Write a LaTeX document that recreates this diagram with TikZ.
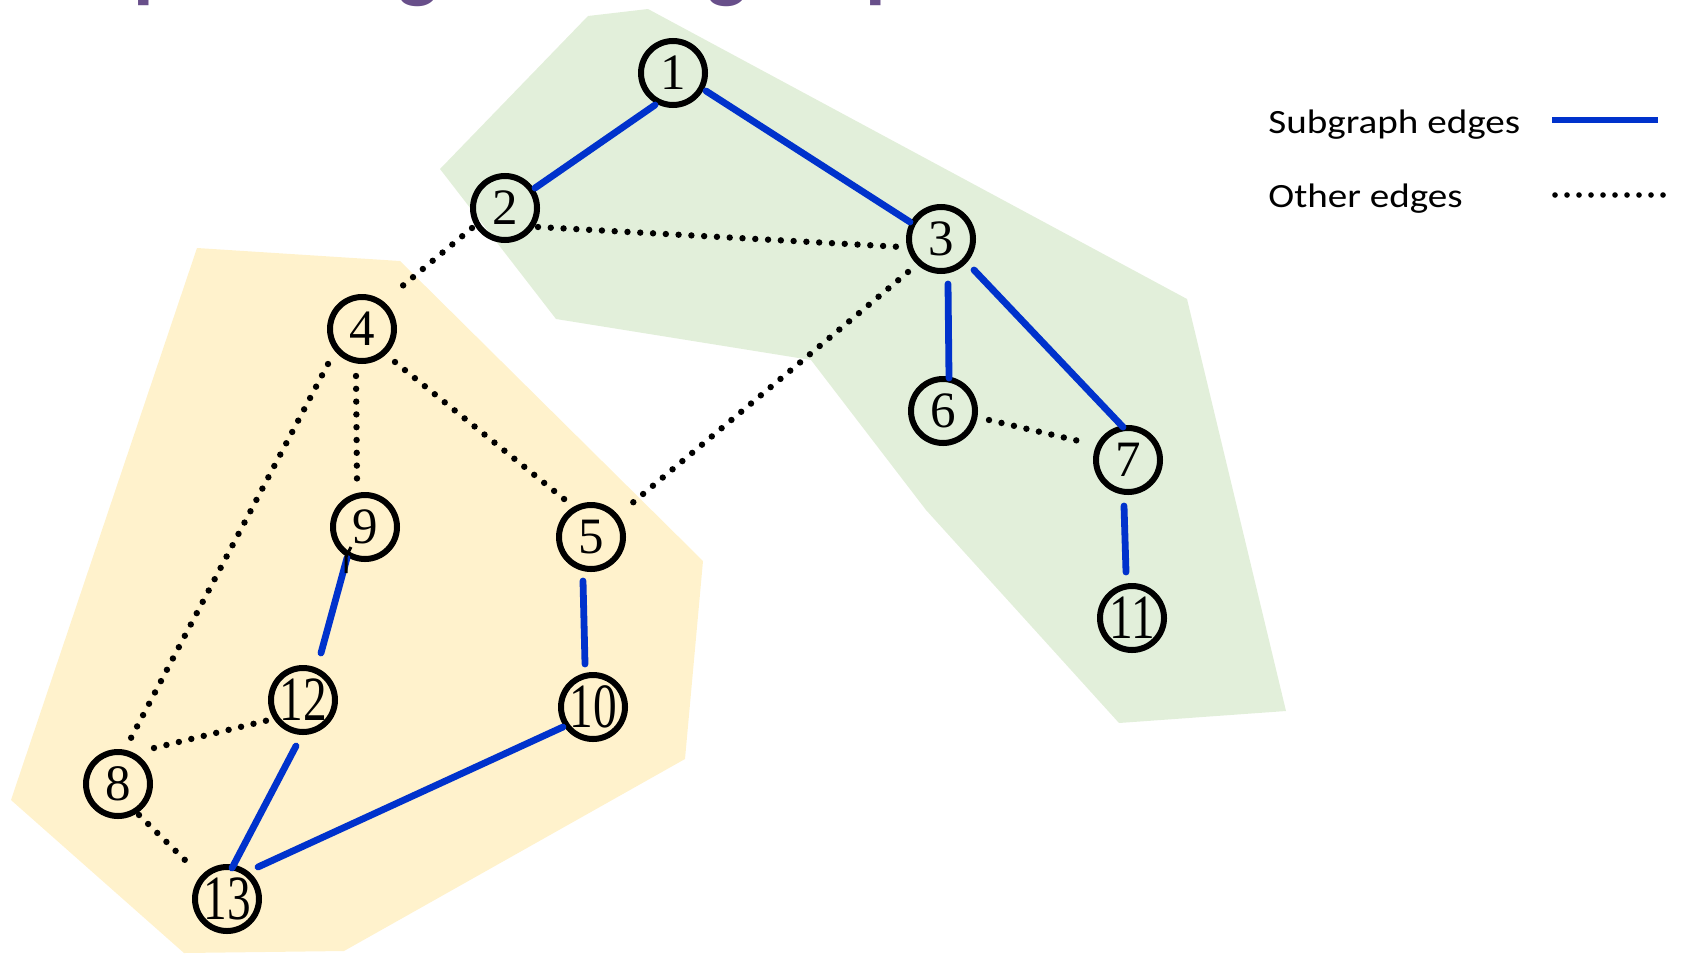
\documentclass[tikz,border=0pt]{standalone}
\usepackage{fontspec}
\usetikzlibrary{calc}
\setmainfont{Liberation Serif}
\newfontfamily\legendfont{Carlito}
\definecolor{greenzone}{RGB}{226,239,218}
\definecolor{yellowzone}{RGB}{255,242,204}
\definecolor{subblue}{RGB}{0,50,204}
\definecolor{titlepurple}{RGB}{104,79,138}
\newcommand{\twodig}[1]{\scalebox{0.75}[1]{\fontsize{31.5}{31.5}\selectfont #1}}
\begin{document}
\begin{tikzpicture}[x=0.5pt,y=-0.5pt,
  vtx/.style={circle,draw,line width=3pt,minimum size=32pt,inner sep=0pt,font=\fontsize{25.5}{25.5}\selectfont},
  subedge/.style={draw=subblue,line width=3.4pt,line cap=round},
  othedge/.style={draw=black,line width=3.2pt,line cap=round,dash pattern=on 0pt off 6.4pt},
  legendtext/.style={anchor=base west,inner sep=0pt,font=\legendfont\fontsize{17}{17}\selectfont},
  titlechar/.style={anchor=base,inner sep=0pt,text=titlepurple,font=\legendfont\bfseries\fontsize{42}{42}\selectfont}]
\useasboundingbox (0,0) rectangle (1684,953);
% zones
\fill[greenzone] (440,169) -- (588,16) -- (648,9) -- (1187,299) -- (1286,711) -- (1119,723) -- (926,510) -- (811,360) -- (556,319) -- cycle;
\fill[yellowzone] (197,248) -- (400,261) -- (703,561) -- (685,759) -- (344,951) -- (184,953) -- (11,800) -- cycle;
% title (cut off at the top edge)
\node[titlechar] (t1) at (156,-7) {p};
\node[titlechar] (t2) at (418,-7) {g};
\node[titlechar] (t3) at (727,-7) {g};
\node[titlechar] (t4) at (888,-7) {p};
% nodes
\node[vtx] (n1) at (673,73) {1};
\node[vtx] (n2) at (505,208) {2};
\node[vtx] (n3) at (941,239) {3};
\node[vtx] (n4) at (362,329) {4};
\node[vtx] (n5) at (591,537) {5};
\node[vtx] (n6) at (943,411) {6};
\node[vtx] (n7) at (1128,460) {7};
\node[vtx] (n8) at (118,784) {8};
\node[vtx] (n9) at (365,527) {9};
\node[vtx] (n10) at (593,707) {\twodig{10}};
\node[vtx] (n11) at (1132,618) {\twodig{11}};
\node[vtx] (n12) at (303,700) {\twodig{12}};
\node[vtx] (n13) at (227,899) {\twodig{13}};
% subgraph edges
\draw[subedge] ($(n1)+(-18,32)$) -- ($(n2)+(30,-20)$);
\draw[subedge] ($(n1)+(33,18)$) -- ($(n3)+(-31,-17)$);
\draw[subedge] ($(n3)+(7,45)$) -- ($(n6)+(6,-33)$);
\draw[subedge] ($(n3)+(33,31)$) -- ($(n7)+(-5,-33)$);
\draw[subedge] ($(n7)+(-4,46)$) -- ($(n11)+(-6,-46)$);
\draw[subedge] ($(n5)+(-8,44)$) -- ($(n10)+(-8,-43)$);
\draw[subedge] ($(n9)+(-18,31)$) -- ($(n12)+(18,-47)$);
\draw[subedge] ($(n12)+(-7,46)$) -- ($(n13)+(5,-31)$);
\draw[subedge] ($(n13)+(31,-32)$) -- ($(n10)+(-30,20)$);
% other edges
\draw[othedge] ($(n2)+(33,19)$) -- ($(n3)+(-39,8)$);
\draw[othedge] ($(n2)+(-33,20)$) -- ($(n4)+(38,-41)$);
\draw[othedge] ($(n3)+(-33,33)$) -- ($(n5)+(33,-27)$);
\draw[othedge] ($(n4)+(-6,47)$) -- ($(n9)+(-8,-45)$);
\draw[othedge] ($(n4)+(33,33)$) -- ($(n5)+(-22,-34)$);
\draw[othedge] ($(n4)+(-34,35)$) -- ($(n8)+(13,-46)$);
\draw[othedge] ($(n6)+(46,9)$) -- ($(n7)+(-49,-19)$);
\draw[othedge] ($(n8)+(36,-36)$) -- ($(n12)+(-34,20)$);
\draw[othedge] ($(n8)+(21,31)$) -- ($(n13)+(-40,-37)$);
% small mark at node 9
\draw[black,line width=1.5pt] ($(n9)+(-14,20)$) -- ($(n9)+(-19,30)$) -- ($(n9)+(-19,46)$);
% legend
\node[legendtext] (lt1) at (1268,133) {\scalebox{1.15}[1]{Subgraph edges}};
\node[legendtext] (lt2) at (1268,207) {\scalebox{1.15}[1]{Other edges}};
\coordinate (la1) at (1552,120);
\coordinate (lb1) at (1658,120);
\coordinate (la2) at (1555,195);
\coordinate (lb2) at (1665,195);
\draw[draw=subblue,line width=3.2pt] (la1) -- (lb1);
\draw[draw=black,line width=2.8pt,line cap=round,dash pattern=on 0pt off 6pt] (la2) -- (lb2);
\end{tikzpicture}
\end{document}
